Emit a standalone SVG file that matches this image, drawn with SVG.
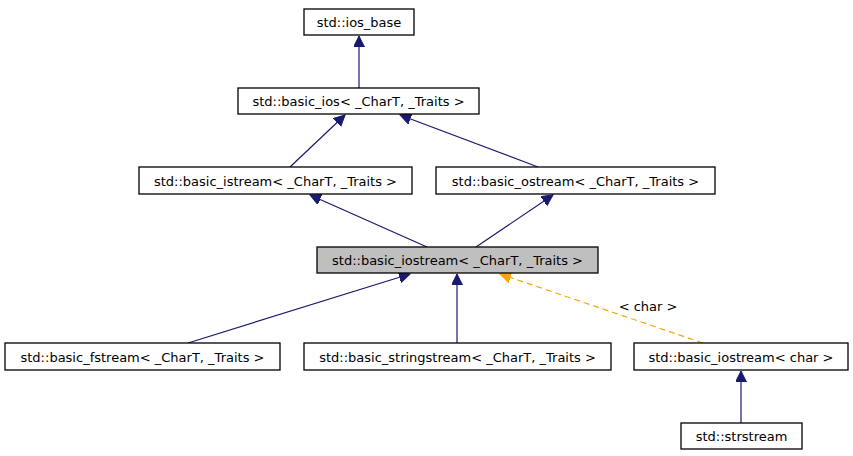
<svg xmlns="http://www.w3.org/2000/svg" width="853" height="456" viewBox="0 0 853 456">
<style>
.n rect{fill:#fff;stroke:#000;stroke-width:1.3}
.n text{font-family:"DejaVu Sans",sans-serif;font-size:13px;text-anchor:middle;fill:#000}
.e{stroke:#191970;stroke-width:1.2;fill:none;marker-end:url(#a)}
.d{stroke:#ffa500;stroke-width:1.2;fill:none;stroke-dasharray:6,4;marker-end:url(#o)}
.l{font-family:"DejaVu Sans",sans-serif;font-size:13px;text-anchor:middle}
</style>
<defs>
<marker id="a" markerUnits="userSpaceOnUse" markerWidth="12" markerHeight="12" refX="11" refY="5.5" orient="auto"><path d="M0,0 L11,5.5 L0,11 z" fill="#191970" stroke="#191970"/></marker>
<marker id="o" markerUnits="userSpaceOnUse" markerWidth="12" markerHeight="12" refX="11" refY="5.5" orient="auto"><path d="M0,0 L11,5.5 L0,11 z" fill="#ffa500" stroke="#ffa500"/></marker>
</defs>
<g id="edges">
<line class="e" x1="359" y1="88" x2="359" y2="36"/>
<line class="e" x1="290" y1="167" x2="345" y2="115"/>
<line class="e" x1="538" y1="167" x2="400" y2="115"/>
<line class="e" x1="427" y1="247" x2="310" y2="195"/>
<line class="e" x1="476" y1="247" x2="553" y2="195"/>
<line class="e" x1="188" y1="343" x2="410" y2="274"/>
<line class="e" x1="457" y1="343" x2="457" y2="274"/>
<line class="d" x1="703" y1="343" x2="500" y2="274"/>
<text class="l" x="648" y="311">&lt; char &gt;</text>
<line class="e" x1="741" y1="423" x2="741" y2="371"/>
</g>
<g id="ios_base" class="n"><rect x="304" y="9" width="110" height="26"/><text x="359" y="27">std::ios_base</text></g>
<g id="basic_ios" class="n"><rect x="238" y="88" width="241" height="26"/><text x="358.5" y="106">std::basic_ios&lt; _CharT, _Traits &gt;</text></g>
<g id="basic_istream" class="n"><rect x="139" y="167" width="273" height="27"/><text x="275.5" y="186">std::basic_istream&lt; _CharT, _Traits &gt;</text></g>
<g id="basic_ostream" class="n"><rect x="436" y="167" width="279" height="27"/><text x="575.5" y="186">std::basic_ostream&lt; _CharT, _Traits &gt;</text></g>
<g id="basic_iostream" class="n"><rect x="317" y="247" width="281" height="26" style="fill:#bfbfbf"/><text x="457.5" y="265">std::basic_iostream&lt; _CharT, _Traits &gt;</text></g>
<g id="basic_fstream" class="n"><rect x="5" y="343" width="275" height="27"/><text x="142.5" y="362">std::basic_fstream&lt; _CharT, _Traits &gt;</text></g>
<g id="basic_stringstream" class="n"><rect x="304" y="343" width="307" height="27"/><text x="457.5" y="362">std::basic_stringstream&lt; _CharT, _Traits &gt;</text></g>
<g id="basic_iostream_char" class="n"><rect x="634" y="343" width="214" height="27"/><text x="741" y="362">std::basic_iostream&lt; char &gt;</text></g>
<g id="strstream" class="n"><rect x="681" y="423" width="121" height="26"/><text x="741.5" y="441">std::strstream</text></g>
</svg>
